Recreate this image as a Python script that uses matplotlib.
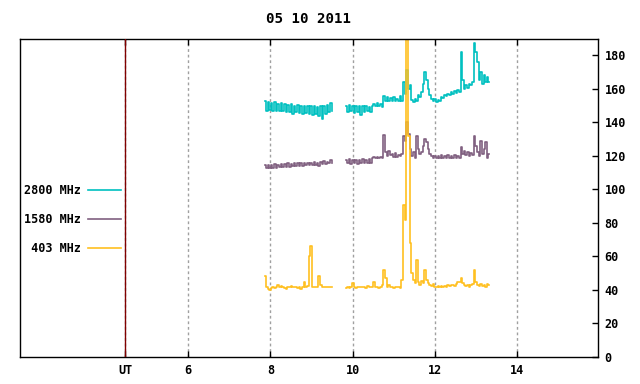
import numpy as np
import matplotlib.pyplot as plt

title = "05 10 2011"
labels = ["2800 MHz", "1580 MHz", " 403 MHz"]
colors = ["#00c0c0", "#806080", "#ffc020"]

# two recording periods (UT hours), sampled every 0.04 h
seg_start = [7.87, 9.85]
seg_len = [42, 88]
step = 0.04

f2800_a = [153, 147, 152, 147.5, 151.5, 147, 152, 147, 151, 146.5,
           151.5, 146.5, 151, 146, 150.5, 146, 151, 145, 150, 146,
           150.5, 145.5, 150, 145, 149.5, 145.5, 150, 145, 150, 144.5,
           149.5, 145, 149, 144, 150, 142, 149.5, 145, 150.5, 146,
           151.5, 147]
f2800_b = [150, 146, 150.5, 146.5, 150, 145.5, 149.5, 146, 150, 144.5,
           149.5, 146, 150, 146.5, 149, 146, 149.5, 151, 149.5, 151.5,
           150, 151, 149, 155.5, 153, 155, 152.5, 154.5, 153, 155,
           152.5, 154, 153, 155.5, 153, 164, 157, 171, 160, 162,
           153.5, 152, 154, 152.5, 156, 155, 158, 163, 170, 165,
           160, 156, 154, 152.5, 154, 152, 153.5, 152.5, 155, 154.5,
           156.5, 155.5, 157, 156, 158, 157, 158.5, 157.5, 159, 158,
           182, 165, 160, 162, 160.5, 163, 162, 164, 187.5, 182,
           176, 165, 170, 163, 168, 164, 167, 164]

f1580_a = [114.5, 112.5, 114.5, 113, 114.5, 113, 115, 113, 114.5, 113.5,
           115, 113.5, 115, 113.5, 115.5, 113.5, 115, 114, 115.5, 114,
           115.5, 114, 116, 114, 115.5, 114.5, 116, 114.5, 116, 114.5,
           116.5, 114.5, 116, 114, 116.5, 115, 117, 115, 116.5, 115.5,
           117.5, 116]
f1580_b = [117.5, 115.5, 118, 115, 117.5, 115.5, 117.5, 115, 117.5, 115.5,
           118, 115.5, 117.5, 116, 118, 116, 118.5, 119.5, 118.5, 119.5,
           118.5, 119.5, 118.5, 132.5, 122, 120, 123, 120.5, 121, 119.5,
           121.5, 119.5, 120.5, 120, 121, 132, 129, 140, 133, 124,
           120, 122, 119, 132, 124, 121, 122.5, 126, 130, 128,
           124, 121, 120, 119, 120, 118.5, 120, 119, 120.5, 118.5,
           120, 119, 120.5, 118.5, 120, 119, 120.5, 118.5, 120, 119,
           125.5, 121, 123, 120.5, 122, 120, 121.5, 120.5, 132, 126,
           122, 120, 129, 121, 124, 128.5, 119, 121]

f403_a = [48.5, 42, 40.5, 40, 41, 41.5, 41, 42, 43, 42,
          42.5, 41.5, 41, 40.5, 41.5, 42, 42.5, 42, 42, 41.5,
          41, 41.5, 40.5, 42, 45, 42, 42.5, 60.5, 66.5, 42,
          41.5, 41.5, 42, 48.5, 43, 42, 41.5, 41.5, 42, 41.5,
          41.5, 42]
f403_b = [41, 41.5, 41, 42, 44, 41.5, 41, 42, 41.5, 42,
          41.5, 42, 41, 42.5, 41.5, 42, 41.5, 45, 42, 41.5,
          41, 42, 43, 52, 47, 42, 43, 41.5, 42, 41,
          42, 41.5, 42, 41, 46, 90.5, 82, 240, 132, 68,
          50, 46, 44, 58, 45, 43, 45.5, 44, 52, 46,
          44, 43, 42.5, 43.5, 42, 41.5, 42.5, 42, 42.5, 42,
          42.5, 42, 43, 42.5, 43, 43, 42.5, 43.5, 44.5, 45,
          47, 44, 43, 42.5, 43, 42, 43, 43.5, 52, 45,
          43, 42.5, 43.5, 42.5, 43, 42, 43.5, 43]

series = [(f2800_a, f2800_b), (f1580_a, f1580_b), (f403_a, f403_b)]

xticks = [4.46, 6, 8, 10, 12, 14]
xticklabels = ["UT", "6", "8", "10", "12", "14"]
yticks = [0, 20, 40, 60, 80, 100, 120, 140, 160, 180]

plt.rcParams["font.family"] = ["DejaVu Sans Mono"]
plt.rcParams["font.weight"] = "bold"
plt.rcParams["font.size"] = 8.5

fig = plt.figure(figsize=(6.4, 3.84), dpi=100)
ax = fig.add_axes([20.3 / 640, 27 / 384, 577.4 / 640, 318.5 / 384])

for (seg_a, seg_b), label, color in zip(series, labels, colors):
    for k, vals in enumerate((seg_a, seg_b)):
        t = seg_start[k] + step * np.arange(seg_len[k])
        ax.plot(t, vals, color=color, lw=1.2, drawstyle="steps-mid",
                label=label if k == 0 else None)

ax.axvline(xticks[0], color="#800000", lw=1, zorder=5)

ax.set_xlim(1.91, 15.97)
ax.set_ylim(0, 190)
ax.set_xticks(xticks)
ax.set_xticklabels(xticklabels, fontweight="bold")
ax.set_yticks(yticks)
ax.yaxis.tick_right()
ax.tick_params(axis="x", direction="in", length=4, width=1, top=True, bottom=True, pad=5)
ax.tick_params(axis="y", direction="in", length=4, width=1, left=False, right=True, pad=5)
ax.grid(axis="x", color="#a0a0a0", lw=1, linestyle=(0, (2, 2)))
for sp in ax.spines.values():
    sp.set_linewidth(1)
ax.set_title(title, fontweight="bold", pad=11)

leg = ax.legend(loc="upper left", bbox_to_anchor=(-0.006, 0.565), frameon=False,
                markerfirst=False, handlelength=2.8, handletextpad=0.6,
                labelspacing=1.35, borderaxespad=0.2)

fig.savefig("out.png", dpi=100)
